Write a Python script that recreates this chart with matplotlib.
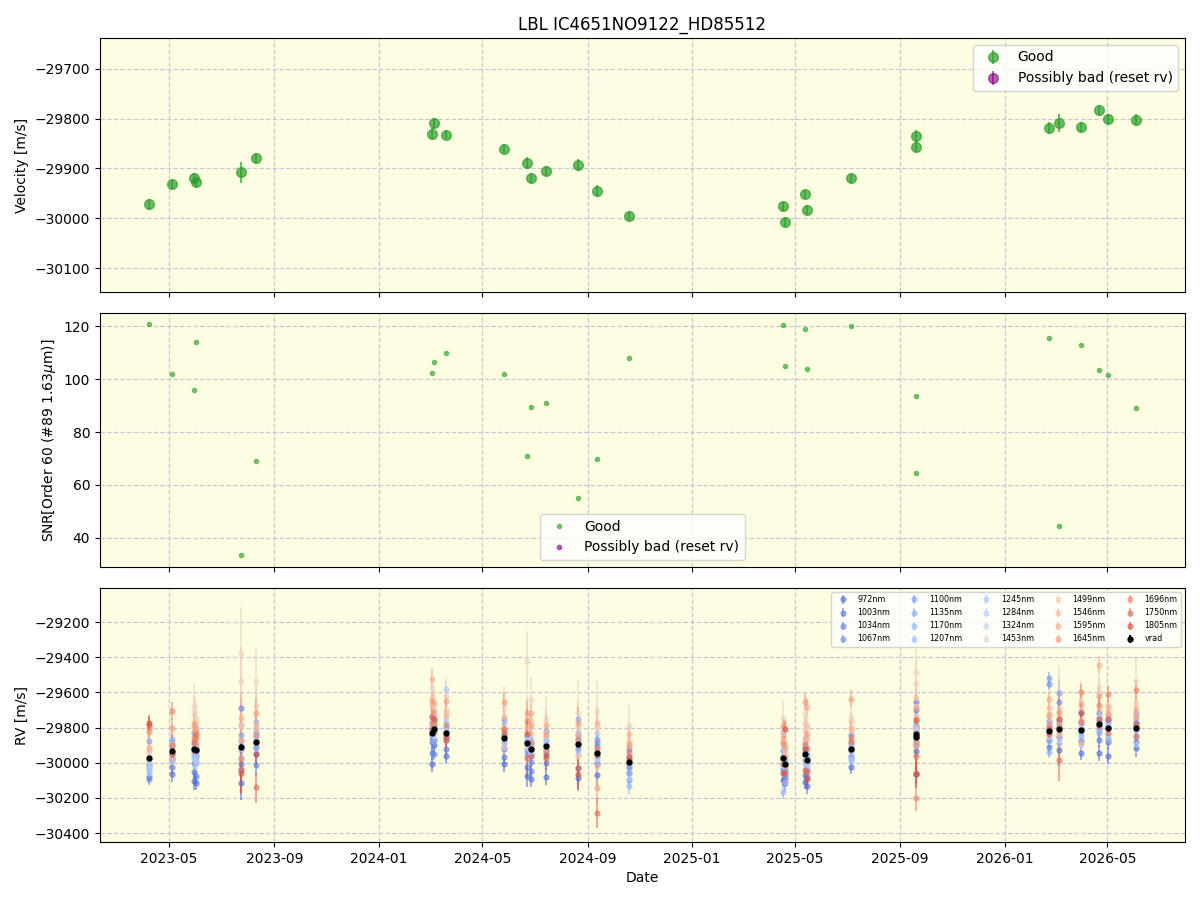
import numpy as np
import pandas as pd
import matplotlib
matplotlib.use("Agg")
import matplotlib.pyplot as plt
import matplotlib.dates as mdates

# observation epochs
dates = pd.to_datetime([
    "2023-04-08", "2023-05-04", "2023-05-30", "2023-06-02", "2023-07-24", "2023-08-11",
    "2024-03-03", "2024-03-05", "2024-03-19", "2024-05-26", "2024-06-22", "2024-06-27",
    "2024-07-14", "2024-08-21", "2024-09-12", "2024-10-19", "2025-04-17", "2025-04-20",
    "2025-05-13", "2025-05-15", "2025-07-06", "2025-09-19", "2025-09-20", "2026-02-22",
    "2026-03-06", "2026-03-31", "2026-04-21", "2026-05-02", "2026-06-03",
])

vrad = [-29972, -29932, -29920, -29927, -29908, -29880,
        -29830, -29809, -29832, -29860, -29889, -29920,
        -29905, -29894, -29945, -29995, -29976, -30008,
        -29952, -29984, -29920, -29834, -29856, -29818,
        -29809, -29816, -29782, -29801, -29802]
vrad_err = [11, 9, 10, 10, 21, 12,
            11, 11, 9, 9, 12, 10,
            10, 12, 12, 9, 9, 10,
            9, 10, 9, 12, 11, 12,
            18, 10, 10, 10, 11]

snr = [121, 102, 96, 114, 33.6, 69,
       102.5, 106.5, 110, 102, 71, 89.5,
       91, 55, 70, 108, 120.5, 105,
       119, 104, 120, 64.5, 93.5, 115.5,
       44.5, 113, 103.5, 101.5, 89]

wl_nm = [972, 1003, 1034, 1067, 1100, 1135, 1170, 1207, 1245, 1284, 1324,
         1453, 1499, 1546, 1595, 1645, 1696, 1750, 1805]

# per-epoch offsets of each wavelength RV from vrad [m/s] (rows = epochs)
wl_offsets = [
    [-110, -40, -30, -120, 95, -55, -70, -85, -60, -40, -20, 20, 40, 60, 50, 145, 170, 185, 200],
    [-130, -90, -40, -50, 50, 65, 20, -20, -30, -60, -10, 40, 0, 30, -40, 130, 225, 30, -20],
    [-185, -130, -80, -20, 90, 40, -50, -30, 10, -60, 0, 240, 200, 130, 100, 140, 60, 30, -10],
    [-190, -150, -75, -30, 20, -40, 10, -60, -20, 30, -80, 180, 160, 110, 40, 125, 70, 90, 0],
    [-205, -100, 220, -135, 67, -20, 10, -60, 125, 40, -10, 530, 370, 120, 165, 38, -70, -125, -150],
    [-30, -70, -135, 50, 20, 110, 0, -40, 60, -10, 30, 345, 200, 100, 80, 165, 40, -260, -70],
    [-175, -115, -55, -30, 95, 20, 40, -10, 60, 10, 30, 255, 200, 150, 305, 180, 55, 90, 20],
    [-90, -60, -140, 20, -30, 50, -70, 0, 30, -20, -40, 120, 80, 60, 150, 100, 30, -10, 60],
    [-130, -90, -40, -10, 30, 10, 60, -20, 250, 80, 20, 210, 140, 120, 105, 185, 45, -40, -20],
    [-145, -105, -60, -20, 105, 30, -50, 10, 80, -30, 0, 175, 60, -50, 120, 205, 40, 50, 20],
    [-185, -135, -40, 20, -60, 40, 10, -20, -10, 30, -30, 470, 150, 100, 75, 170, 125, -85, 50],
    [-170, -125, -75, -30, 20, -40, 30, -10, 60, -20, 10, 275, 160, 90, 200, 135, 40, -40, 0],
    [-175, -95, -40, 35, 85, 10, -20, 0, 30, -30, 50, 155, 120, 80, 120, 60, -20, -70, -50],
    [-195, -135, -20, 50, 25, 140, 0, -40, 70, -60, 10, 175, 100, -70, 60, 120, 30, -135, -170],
    [-125, -60, 40, 65, 80, 20, -20, -40, 115, 0, -30, 240, 150, -75, 170, -200, 30, -340, -10],
    [-65, -30, 75, -105, 20, -20, -140, -60, 40, -90, 0, 210, 120, 90, 160, 100, 55, 10, 30],
    [-125, -60, 50, -30, 10, 150, -190, -80, 20, -40, 60, 230, 150, 100, 125, 185, 90, -30, -85],
    [-110, -80, -40, 0, -60, 30, -20, 20, -100, 10, 40, 120, 80, 60, 40, 100, -10, -50, 200],
    [-160, -120, -35, 20, 40, -10, 60, -50, 90, 0, -20, 230, 135, 170, 80, 300, 60, -90, 30],
    [-150, -100, -60, -20, 30, 0, -40, 20, 50, -30, 10, 200, 180, 120, 300, 150, 70, -70, -110],
    [-105, -55, 75, 20, -40, 40, -70, -20, 10, -60, 30, 180, 100, 160, 120, 285, 60, 40, 0],
    [-230, 180, 135, 40, 20, -20, 60, -65, 100, 0, -40, 350, 285, 200, 80, 145, -365, -125, -230],
    [-80, -40, 60, 10, 30, -30, 0, 40, -10, 20, 50, 180, 120, 60, 0, -50, -20, -200, 100],
    [-50, -90, 55, 265, 300, -120, 20, -60, 0, 40, -30, 100, 70, 130, 180, 90, 30, -20, 10],
    [-120, -45, 40, 155, 205, -80, 10, -20, 60, 30, -60, 120, 80, -30, 50, 100, 20, -175, 60],
    [-130, -60, 105, 10, -15, 40, -40, 20, 0, -85, 30, 170, 120, 60, -70, 150, 220, 45, 100],
    [-165, -90, 65, -30, 20, -50, 10, 40, -20, 0, 50, 215, 180, 80, 340, 160, 110, -10, 30],
    [-160, -80, 45, 0, 20, -70, -60, 30, 10, -40, 60, 130, 100, 70, 120, 80, 190, -30, 50],
    [-115, -80, 85, 35, 0, -50, 20, -20, 60, -90, 10, 265, 140, 80, 110, 60, 215, -45, 20],
]
# typical error of each wavelength and relative error level of each epoch
wl_err = [45, 40, 40, 40, 40, 40, 45, 45, 50, 55, 60, 120, 90, 60, 50, 55, 50, 60, 55]
epoch_err_scale = [0.8, 1.0, 1.1, 0.9, 2.2, 1.5, 1.0, 0.95, 0.9, 1.0, 1.4, 1.1, 1.1, 1.6, 1.4,
                   0.95, 0.85, 0.95, 0.85, 1.0, 0.85, 1.5, 1.1, 0.9, 2.0, 0.9, 1.0, 1.0, 1.1]

bg = "#fdfde2"
grid_kw = dict(color="#c8c8d8", linestyle="--", linewidth=0.9)

fig, axes = plt.subplots(3, 1, figsize=(12, 9), dpi=100, sharex=True)
fig.subplots_adjust(left=0.0833, right=0.9875, top=0.9578, bottom=0.0644, hspace=0.083)
ax1, ax2, ax3 = axes
for ax in axes:
    ax.set_facecolor(bg)
    ax.grid(True, **grid_kw)
    ax.set_axisbelow(True)

# top: velocity
ax1.errorbar(dates, vrad, yerr=vrad_err, fmt="o", color="tab:green", alpha=0.7,
             ms=7, elinewidth=1.5, label="Good")
ax1.errorbar([], [], yerr=[], fmt="o", color="purple", alpha=0.6, ms=7,
             label="Possibly bad (reset rv)")
ax1.set_ylabel("Velocity [m/s]")
ax1.set_ylim(-30148, -29638)
ax1.set_title("LBL IC4651NO9122_HD85512")
ax1.legend(loc="upper right")

# middle: SNR
ax2.plot(dates, snr, "o", color="tab:green", alpha=0.6, ms=3, label="Good")
ax2.plot([], [], "o", color="purple", alpha=0.6, ms=3, label="Possibly bad (reset rv)")
ax2.set_ylabel(r"SNR[Order 60 (#89 1.63$\mu$m)]")
ax2.set_ylim(29, 125)
ax2.legend(loc="lower center")

# bottom: per-wavelength RV, coloured by wavelength
norm = plt.Normalize(900, 1900)
offs = np.array(wl_offsets)
errs = np.outer(epoch_err_scale, wl_err)
for i, wl in enumerate(wl_nm):
    ax3.errorbar(dates, np.array(vrad) + offs[:, i], yerr=errs[:, i], fmt="o",
                 color=plt.cm.coolwarm(norm(wl)), alpha=0.55, ms=3.5, elinewidth=1.5,
                 label=f"{wl}nm")
ax3.errorbar(dates, vrad, yerr=vrad_err, fmt="o", color="black", ms=3.5,
             elinewidth=1.5, label="vrad")
ax3.set_ylabel("RV [m/s]")
ax3.set_ylim(-30451, -29007)
ax3.set_xlabel("Date")
ax3.legend(loc="upper right", ncol=5, fontsize="xx-small")

ax3.xaxis.set_major_locator(mdates.MonthLocator(bymonth=[1, 5, 9]))
ax3.xaxis.set_major_formatter(mdates.DateFormatter("%Y-%m"))

plt.savefig("out.png", dpi=100)
